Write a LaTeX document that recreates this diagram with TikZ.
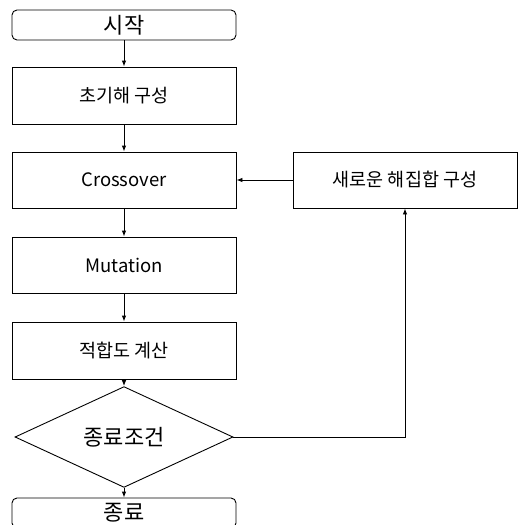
\documentclass[tikz,border=0pt]{standalone}
\usepackage{fontspec}
\setmainfont{Noto Sans CJK KR}
\usetikzlibrary{shapes.geometric,arrows.meta}
\begin{document}
\begin{tikzpicture}[x=1pt,y=-1pt,
  every node/.style={font=\fontsize{18.5}{22}\selectfont, inner sep=0pt},
  procbox/.style={draw, line width=0.9pt, minimum width=224pt, minimum height=56pt},
  termbox/.style={draw, line width=0.9pt, rounded corners=5pt, minimum width=224pt, minimum height=30pt, font=\fontsize{22}{26}\selectfont},
  decbox/.style={draw, diamond, line width=0.9pt, minimum width=218pt, minimum height=62pt, font=\fontsize{22}{26}\selectfont},
  conn/.style={line width=0.9pt, -{Latex[length=6pt,width=4.5pt]}}
]
\useasboundingbox (0,0) rectangle (520,525);
\clip (0,0) rectangle (520,525);
\node[termbox] (start) at (124,25) {시작};
\node[procbox, minimum height=57pt] (init) at (124,95.5) {초기해 구성};
\node[procbox] (cross) at (124,180) {Crossover};
\node[procbox] (mut) at (124,265) {Mutation};
\node[procbox, minimum height=57pt] (fit) at (124,350.5) {적합도 계산};
\node[decbox] (cond) at (124,437) {종료조건};
\node[termbox] (end) at (124,513) {종료};
\node[procbox] (new) at (405,180) {새로운 해집합 구성};
\draw[conn] (start) -- (init);
\draw[conn] (init) -- (cross);
\draw[conn] (cross) -- (mut);
\draw[conn] (mut) -- (fit);
\draw[conn] (fit) -- (cond);
\draw[conn] (cond) -- (end);
\draw[conn] (cond.east) -| (new.south);
\draw[conn] (new) -- (cross);
\end{tikzpicture}
\end{document}
